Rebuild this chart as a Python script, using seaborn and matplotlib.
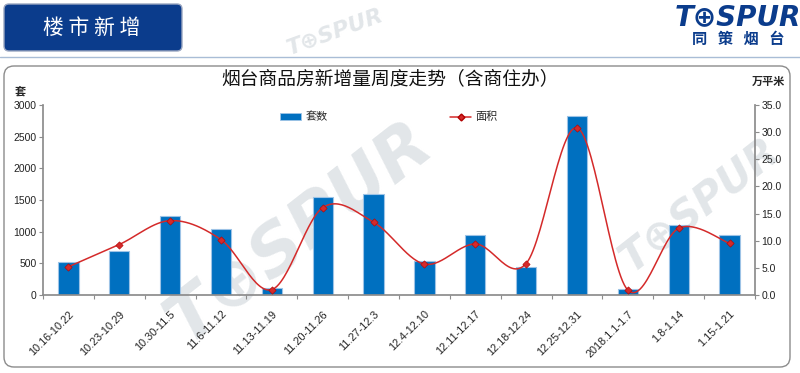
import numpy as np
import pandas as pd
import matplotlib
matplotlib.use("Agg")
import matplotlib.pyplot as plt
from matplotlib.patches import FancyBboxPatch
from matplotlib.lines import Line2D
from matplotlib.patches import Patch
import seaborn as sns

# ---------------- data ----------------
weeks = ["10.16-10.22", "10.23-10.29", "10.30-11.5", "11.6-11.12", "11.13-11.19",
         "11.20-11.26", "11.27-12.3", "12.4-12.10", "12.11-12.17", "12.18-12.24",
         "12.25-12.31", "2018.1.1-1.7", "1.8-1.14", "1.15-1.21"]
units = [515, 700, 1250, 1040, 118, 1545, 1595, 540, 950, 450, 2820, 90, 1110, 945]
area = [5.2, 9.3, 13.7, 10.2, 1.0, 16.1, 13.4, 5.7, 9.4, 5.8, 30.8, 0.9, 12.3, 9.5]
left_ticks = [0, 500, 1000, 1500, 2000, 2500, 3000]
right_ticks = [0, 5, 10, 15, 20, 25, 30, 35]

title = "烟台商品房新增量周度走势（含商住办）"
header = "楼 市 新 增"
label_units = "套数"
label_area = "面积"

sns.set_theme(style="white")
plt.rcParams["font.family"] = ["Liberation Sans", "Noto Sans CJK SC", "DejaVu Sans"]

BLUE = "#0070C0"
RED = "#D42A2A"
NAVY = "#0B3C8C"

fig = plt.figure(figsize=(8.0, 3.73), dpi=100)

# background layer in pixel coordinates
bg = fig.add_axes([0, 0, 1, 1], zorder=-5)
bg.set_xlim(0, 800)
bg.set_ylim(373, 0)
bg.axis("off")

# watermarks
wm = dict(color="#e2e6e9", fontweight="bold", fontstyle="italic",
          family="DejaVu Sans", ha="center", va="center", zorder=0)
bg.text(300, 232, "T⊕SPUR", fontsize=50, rotation=38, **wm)
bg.text(335, 32, "T⊕SPUR", fontsize=16, rotation=20, **wm)
bg.text(700, 205, "T⊕SPUR", fontsize=30, rotation=38, **wm)

# header box
bg.add_patch(FancyBboxPatch((4, 4), 178, 47, boxstyle="round,pad=0,rounding_size=5",
                            fc=NAVY, ec="#9aa6c0", lw=1, zorder=2))
bg.text(92, 28, header, color="white", fontsize=15, ha="center", va="center",
        family=["Noto Sans CJK SC"], zorder=3)
bg.plot([0, 800], [57, 57], color="#a9bdd6", lw=1, zorder=2)

# chart frame
bg.add_patch(FancyBboxPatch((4, 66), 786, 301, boxstyle="round,pad=0,rounding_size=10",
                            fc="none", ec="#8c8c8c", lw=1, zorder=2))

# logo
bg.text(738, 17, "T⊕SPUR", color=NAVY, fontsize=20, fontweight="bold", fontstyle="italic",
        family="DejaVu Sans", ha="center", va="center", zorder=3)
bg.text(738, 39, "同   策   烟   台", color=NAVY, fontsize=11, fontweight="bold",
        family=["Noto Sans CJK SC"], ha="center", va="center", zorder=3)

# title & units
bg.text(390, 79, title, fontsize=13.5, ha="center", va="center", color="#111111", zorder=3)
bg.text(20, 91, "套", fontsize=8, fontweight="bold", ha="center", va="center", zorder=3)
bg.text(768, 82, "万平米", fontsize=8, fontweight="bold", ha="center", va="center", zorder=3)

# ---------------- main chart ----------------
ax = fig.add_axes([43 / 800, 1 - 295 / 373, (755 - 43) / 800, (295 - 105) / 373])
ax.set_facecolor("none")
df = pd.DataFrame({"week": weeks, "units": units, "area": area})
sns.barplot(data=df, x="week", y="units", color=BLUE, width=0.4, saturation=1,
            edgecolor="#9dc3e6", linewidth=0.8, ax=ax, zorder=2)
ax.set_ylim(0, 3000)
ax.set_xlim(-0.5, len(weeks) - 0.5)
ax.set_yticks(left_ticks)
ax.set_xlabel("")
ax.set_ylabel("")

ax2 = ax.twinx()
ax2.set_ylim(0, 35)
ax2.set_yticks(right_ticks)
ax2.set_yticklabels([f"{v:.1f}" for v in right_ticks])

# smoothed line (Catmull-Rom / Bezier, as Excel's smoothed line)
xs = np.arange(len(area), dtype=float)
ys = np.array(area, dtype=float)
P = np.column_stack([xs, ys])
P_ext = np.vstack([P[0], P, P[-1]])
curve = []
t = np.linspace(0, 1, 30)
for i in range(len(P) - 1):
    p0, p1, p2, p3 = P_ext[i], P_ext[i + 1], P_ext[i + 2], P_ext[i + 3]
    c1 = p1 + (p2 - p0) / 6
    c2 = p2 - (p3 - p1) / 6
    seg = ((1 - t) ** 3)[:, None] * p1 + (3 * (1 - t) ** 2 * t)[:, None] * c1 \
        + (3 * (1 - t) * t ** 2)[:, None] * c2 + (t ** 3)[:, None] * p2
    curve.append(seg if i == 0 else seg[1:])
curve = np.vstack(curve)
ax2.plot(curve[:, 0], curve[:, 1], color=RED, lw=1.1, zorder=3)
sns.scatterplot(x=xs, y=ys, ax=ax2, marker="D", s=14, color=RED, edgecolor="#B00000",
                linewidth=0.4, zorder=4)

# axes styling
for a in (ax, ax2):
    a.spines["top"].set_visible(False)
    a.spines["left"].set_color("#8c8c8c")
    a.spines["right"].set_color("#8c8c8c")
    a.spines["bottom"].set_color("#8c8c8c")
ax.spines["right"].set_visible(False)
ax2.spines["left"].set_visible(False)
ax2.spines["bottom"].set_visible(False)

ax.tick_params(axis="y", which="both", left=True, length=3, width=0.8, color="#8c8c8c",
               labelsize=7.5, labelcolor="#222222", pad=1.5)
ax2.tick_params(axis="y", right=True, length=3, width=0.8, color="#8c8c8c",
                labelsize=7.5, labelcolor="#222222", pad=1.5)

ax.set_xticks(np.arange(len(weeks)))
ax.set_xticklabels(weeks, rotation=45, ha="right", rotation_mode="anchor",
                   fontsize=7.8, color="#222222")
ax.tick_params(axis="x", which="major", bottom=False, pad=4)
ax.set_xticks(np.arange(-0.5, len(weeks), 1.0), minor=True)
ax.tick_params(axis="x", which="minor", bottom=True, length=3, width=0.8, color="#8c8c8c")
ax.grid(False)
ax2.grid(False)

# legend
handles = [Patch(facecolor=BLUE, edgecolor="#9dc3e6", linewidth=0.6),
           Line2D([0], [0], color=RED, lw=1.1, marker="D", markersize=3.5,
                  markerfacecolor=RED, markeredgecolor="#B00000")]
fig.legend(handles, [label_units, label_area], ncol=2, frameon=False,
           loc="center", bbox_to_anchor=(389 / 800, 1 - 117 / 373), fontsize=8,
           columnspacing=11, handlelength=1.9, handleheight=0.6, handletextpad=0.4)

fig.savefig("out.png", dpi=100)
